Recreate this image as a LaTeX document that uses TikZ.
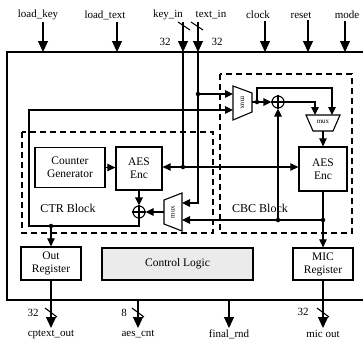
\documentclass[tikz,border=0pt]{standalone}
\usepackage{fontspec}
\setmainfont{Liberation Serif}
\usetikzlibrary{arrows.meta,calc}

\begin{document}
\begin{tikzpicture}[x=1pt, y=-1pt,
  blk/.style={draw, line width=1.3pt, align=center, inner sep=0pt, font=\fontsize{11.5}{13}\selectfont},
  wire/.style={line width=1.1pt},
  arr/.style={wire, -{Triangle[length=8pt,width=7.5pt]}},
  pin/.style={line width=1.1pt, -{Triangle[length=11pt,width=10pt]}},
  dot/.style={circle, fill, inner sep=0pt, minimum size=4.5pt},
  lbl/.style={font=\fontsize{11}{12}\selectfont, inner sep=2pt},
  xor/.style={draw, circle, line width=1.1pt, minimum size=12pt, inner sep=0pt},
  muxtxt/.style={font=\fontsize{7}{7}\selectfont, inner sep=0pt},
  blkdash/.style={line width=1.4pt, dash pattern=on 6pt off 4pt}]
  \useasboundingbox (0,0) rectangle (363,343);
  % outer box (right side runs off the page)
  \draw[line width=2.6pt] (364,52) -- (7,52) -- (7,300) -- (364,300);
  % dashed blocks
  \draw[blkdash] (22,132) rectangle (213,233);
  \draw[blkdash] (220,74) rectangle (352,233);
  \node[font=\fontsize{12}{12}\selectfont] (ctrlbl) at (68,208) {CTR Block};
  \node[font=\fontsize{12}{12}\selectfont] (cbclbl) at (260,208) {CBC Block};

  % blocks
  \node[blk, minimum width=70pt, minimum height=40pt] (cnt) at (70,167.5) {Counter\\Generator};
  \node[blk, minimum width=46pt, minimum height=43pt] (aesL) at (139,168.5) {AES\\Enc};
  \node[blk, minimum width=48pt, minimum height=44pt] (aesR) at (323,169) {AES\\Enc};
  \node[blk, minimum width=60pt, minimum height=33pt] (outR) at (51,263.5) {Out\\Register};
  \node[blk, fill=black!8, minimum width=151pt, minimum height=32pt] (ctrl) at (177.5,264) {Control Logic};
  \node[blk, minimum width=60pt, minimum height=32pt] (micR) at (323,264) {MIC\\Register};

  % xor gates
  \node[xor] (xorL) at (139,212) {};
  \draw[wire] (xorL.north) -- (xorL.south) (xorL.west) -- (xorL.east);
  \node[xor] (xorC) at (278,102) {};
  \draw[wire] (xorC.north) -- (xorC.south) (xorC.west) -- (xorC.east);

  % muxes
  \draw[wire] (233,86) -- (252,93) -- (252,112) -- (233,120) -- cycle;
  \node[muxtxt, rotate=-90] (muxC) at (242.5,103) {mux};
  \coordinate (muxCa) at (233,94);
  \coordinate (muxCb) at (233,110);
  \coordinate (muxCo) at (252,102);
  \draw[wire] (182,193) -- (164,200) -- (164,224) -- (182,231) -- cycle;
  \node[muxtxt, rotate=90] (muxL) at (173,212) {mux};
  \coordinate (muxLa) at (182,203);
  \coordinate (muxLb) at (182,220);
  \coordinate (muxLo) at (164,212);
  \draw[wire] (306,115) -- (340,115) -- (333,131) -- (313,131) -- cycle;
  \node[muxtxt] (muxM) at (323,122) {mux};
  \coordinate (muxMa) at (315,115);
  \coordinate (muxMb) at (332,115);
  \coordinate (muxMo) at (323,131);

  % inputs
  \foreach \lx/\ax/\t in {38/43/load\_key, 105/117/load\_text, 168/183/key\_in,
      211/198/text\_in, 258/265/clock, 301/308/reset, 347/345/mode} {
    \node[lbl] (in-\ax) at (\lx,15) {\t};
    \coordinate (top-\ax) at (\ax,52);
    \draw[pin] (in-\ax.south -| top-\ax) -- (top-\ax);
  }
  \draw[wire] (178,22) -- (190,30);
  \draw[wire] (191,22) -- (203,30);
  \node[lbl] (w1) at (165,42) {32};
  \node[lbl] (w2) at (217,42) {32};

  % key_in
  \coordinate (kdot) at (183,167);
  \draw[wire] (top-183) -- (kdot);
  \node[dot] at (kdot) {};
  \draw[arr] (kdot) -- (kdot -| aesL.east);
  \draw[arr] (kdot) -- (kdot -| aesR.west);

  % text_in
  \coordinate (tdot) at (198,94);
  \draw[arr] (top-198) |- (muxLa);
  \node[dot] at (tdot) {};
  \draw[arr] (tdot) -- (muxCa);

  % CTR path
  \draw[arr] (cnt.east) -- (cnt.east -| aesL.west);
  \draw[arr] (aesL.south) -- (xorL.north);
  \draw[arr] (muxLo) -- (xorL.east);
  \coordinate (loopA) at (29,226);
  \coordinate (loopB) at (29,110);
  \draw[arr] (xorL.south) |- (loopA) -- (loopB) -- (muxCb);
  \node[dot] at (outR.north |- loopA) {};
  \draw[arr] (outR.north |- loopA) -- (outR.north);

  % CBC path
  \coordinate (bdot) at (257,102);
  \coordinate (cbtop) at (295,88);
  \draw[arr] (muxCo) -- (xorC.west);
  \node[dot] at (bdot) {};
  \draw[arr] (bdot) |- (cbtop) -| (muxMb);
  \draw[arr] (xorC.east) -| (muxMa);
  \draw[arr] (muxMo) -- (muxMo |- aesR.north);
  \coordinate (rdot) at (323,220);
  \coordinate (cdot) at (278,220);
  \draw[arr] (aesR.south) -- (micR.north);
  \node[dot] at (rdot) {};
  \draw[arr] (rdot) -- (muxLb);
  \node[dot] at (cdot) {};
  \draw[arr] (cdot) -- (xorC.south);

  % outputs
  \node[lbl, anchor=north] (o1) at (51,328) {cptext\_out};
  \node[lbl, anchor=north] (o2) at (138,328) {aes\_cnt};
  \node[lbl, anchor=north] (o3) at (229,328) {final\_rnd};
  \node[lbl, anchor=north] (o4) at (323,328) {mic out};
  \coordinate (bot-138) at (138,300);
  \coordinate (bot-229) at (229,300);
  \draw[pin] (outR.south) -- (o1.north);
  \draw[pin] (bot-138) -- (o2.north);
  \draw[pin] (bot-229) -- (o3.north);
  \draw[pin] (micR.south) -- (o4.north);
  \draw[wire] (45,308) -- (57,317);
  \draw[wire] (132,308) -- (144,317);
  \draw[wire] (317,308) -- (329,317);
  \node[lbl] (w3) at (33,313) {32};
  \node[lbl] (w4) at (124,313) {8};
  \node[lbl] (w5) at (303,312) {32};
\end{tikzpicture}
\end{document}
